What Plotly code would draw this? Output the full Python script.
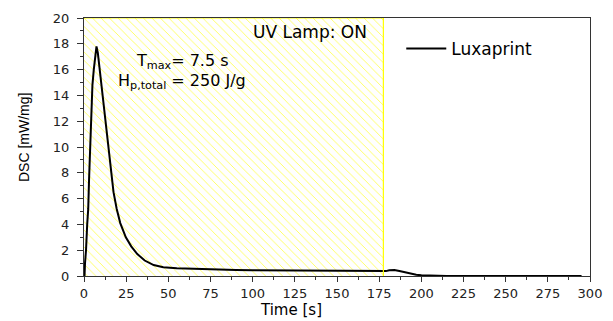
import plotly.graph_objects as go

# Data
time_s = [0, 0.3, 0.6, 1.2, 1.9, 2.5, 3.0, 3.5, 4.0, 4.5, 5.0, 5.8, 6.5, 7.4, 8.2,
          9.3, 10.3, 11.6, 12.5, 13.5, 14.7, 16.1, 17.5, 19.4, 21.5, 24.8, 28, 31.6,
          36, 41.3, 47, 55, 65, 75, 90, 100, 115, 125, 140, 150, 165, 175, 177.5,
          179, 181, 184, 187, 190, 194, 197, 200, 205, 215, 240, 270, 295]
dsc = [0, 0, 1.0, 2.0, 4.0, 5.2, 7.5, 9.5, 11.0, 13.5, 14.8, 16.0, 17.0, 17.8, 17.3,
       16.0, 15.0, 13.5, 12.3, 11.2, 10.0, 7.9, 6.5, 5.2, 4.1, 3.0, 2.3, 1.7,
       1.2, 0.85, 0.68, 0.6, 0.55, 0.5, 0.47, 0.45, 0.43, 0.41, 0.39, 0.37, 0.35, 0.34, 0.33,
       0.38, 0.45, 0.46, 0.38, 0.28, 0.17, 0.1, 0.05, 0.02, 0.0, 0.0, 0.0, 0.0]

lamp_on = [0, 177.5]          # UV lamp ON interval [s]
y_range = [0, 20]
x_range = [0, 300]
x_ticks = [0, 25, 50, 75, 100, 125, 150, 175, 200, 225, 250, 275, 300]
y_ticks = [0, 2, 4, 6, 8, 10, 12, 14, 16, 18, 20]
series_name = "Luxaprint"

fig = go.Figure()

# hatched region for lamp ON
fig.add_trace(go.Scatter(
    x=[lamp_on[0], lamp_on[1], lamp_on[1], lamp_on[0], lamp_on[0]],
    y=[y_range[0], y_range[0], y_range[1], y_range[1], y_range[0]],
    mode="lines", fill="toself", line=dict(width=0),
    fillcolor="white",
    fillpattern=dict(shape="\\", fgcolor="#ffff30", bgcolor="white",
                     size=6, solidity=0.12, fillmode="replace"),
    showlegend=False, hoverinfo="skip"))

fig.add_trace(go.Scatter(x=time_s, y=dsc, mode="lines", name=series_name,
                         line=dict(color="black", width=2)))

# yellow edges of the lamp region (top and right)
fig.add_shape(type="line", x0=lamp_on[0], x1=lamp_on[1], y0=y_range[1], y1=y_range[1],
              xref="x", yref="y", line=dict(color="#ffff00", width=1.2), layer="above")
fig.add_shape(type="line", x0=lamp_on[1], x1=lamp_on[1], y0=y_range[0], y1=y_range[1],
              xref="x", yref="y", line=dict(color="#ffff00", width=1.2), layer="above")

tick_font = dict(family="DejaVu Sans", size=13, color="#222")
fig.update_xaxes(range=x_range, tickvals=x_ticks, ticks="outside", ticklen=5,
                 tickcolor="#333", showline=True, linecolor="#333", linewidth=1,
                 mirror=True, showgrid=False, zeroline=False, tickfont=tick_font,
                 minor=dict(dtick=12.5, ticks="outside", ticklen=3, tickcolor="#333"))
fig.update_yaxes(range=y_range, tickvals=y_ticks, ticks="outside", ticklen=6,
                 tickcolor="#333", showline=True, linecolor="#333", linewidth=1,
                 mirror=True, showgrid=False, zeroline=False, tickfont=tick_font,
                 ticklabelstandoff=5,
                 minor=dict(dtick=1, ticks="outside", ticklen=3, tickcolor="#333"))

anns = [
    dict(text="UV Lamp: ON", x=0.446, y=0.945, font=dict(size=17, family="DejaVu Sans")),
    dict(text="T<sub>max</sub>= 7.5 s", x=0.0988, y=0.83, xanchor="left",
         font=dict(size=16, family="DejaVu Sans")),
    dict(text="H<sub>p,total</sub> = 250 J/g", x=0.063, y=0.752, xanchor="left",
         font=dict(size=16, family="DejaVu Sans")),
    dict(text="Time [s]", x=0.41, y=-0.132, font=dict(size=15, family="DejaVu Sans")),
    dict(text="DSC [mW/mg]", x=-0.12, y=0.536, textangle=-90,
         font=dict(size=14, family="Liberation Sans")),
]
for a in anns:
    a.setdefault("xanchor", "center")
    fig.add_annotation(xref="paper", yref="paper", showarrow=False, yanchor="middle",
                       font_color="black", **{k: v for k, v in a.items()})

fig.update_layout(
    width=613, height=321,
    margin=dict(l=84, r=13, t=11, b=45),
    paper_bgcolor="white", plot_bgcolor="white",
    showlegend=True,
    legend=dict(x=0.627, y=0.95, xanchor="left", yanchor="top", itemwidth=40,
                bgcolor="rgba(0,0,0,0)", font=dict(size=17, family="DejaVu Sans", color="black")),
)

fig.write_html("out.html")
